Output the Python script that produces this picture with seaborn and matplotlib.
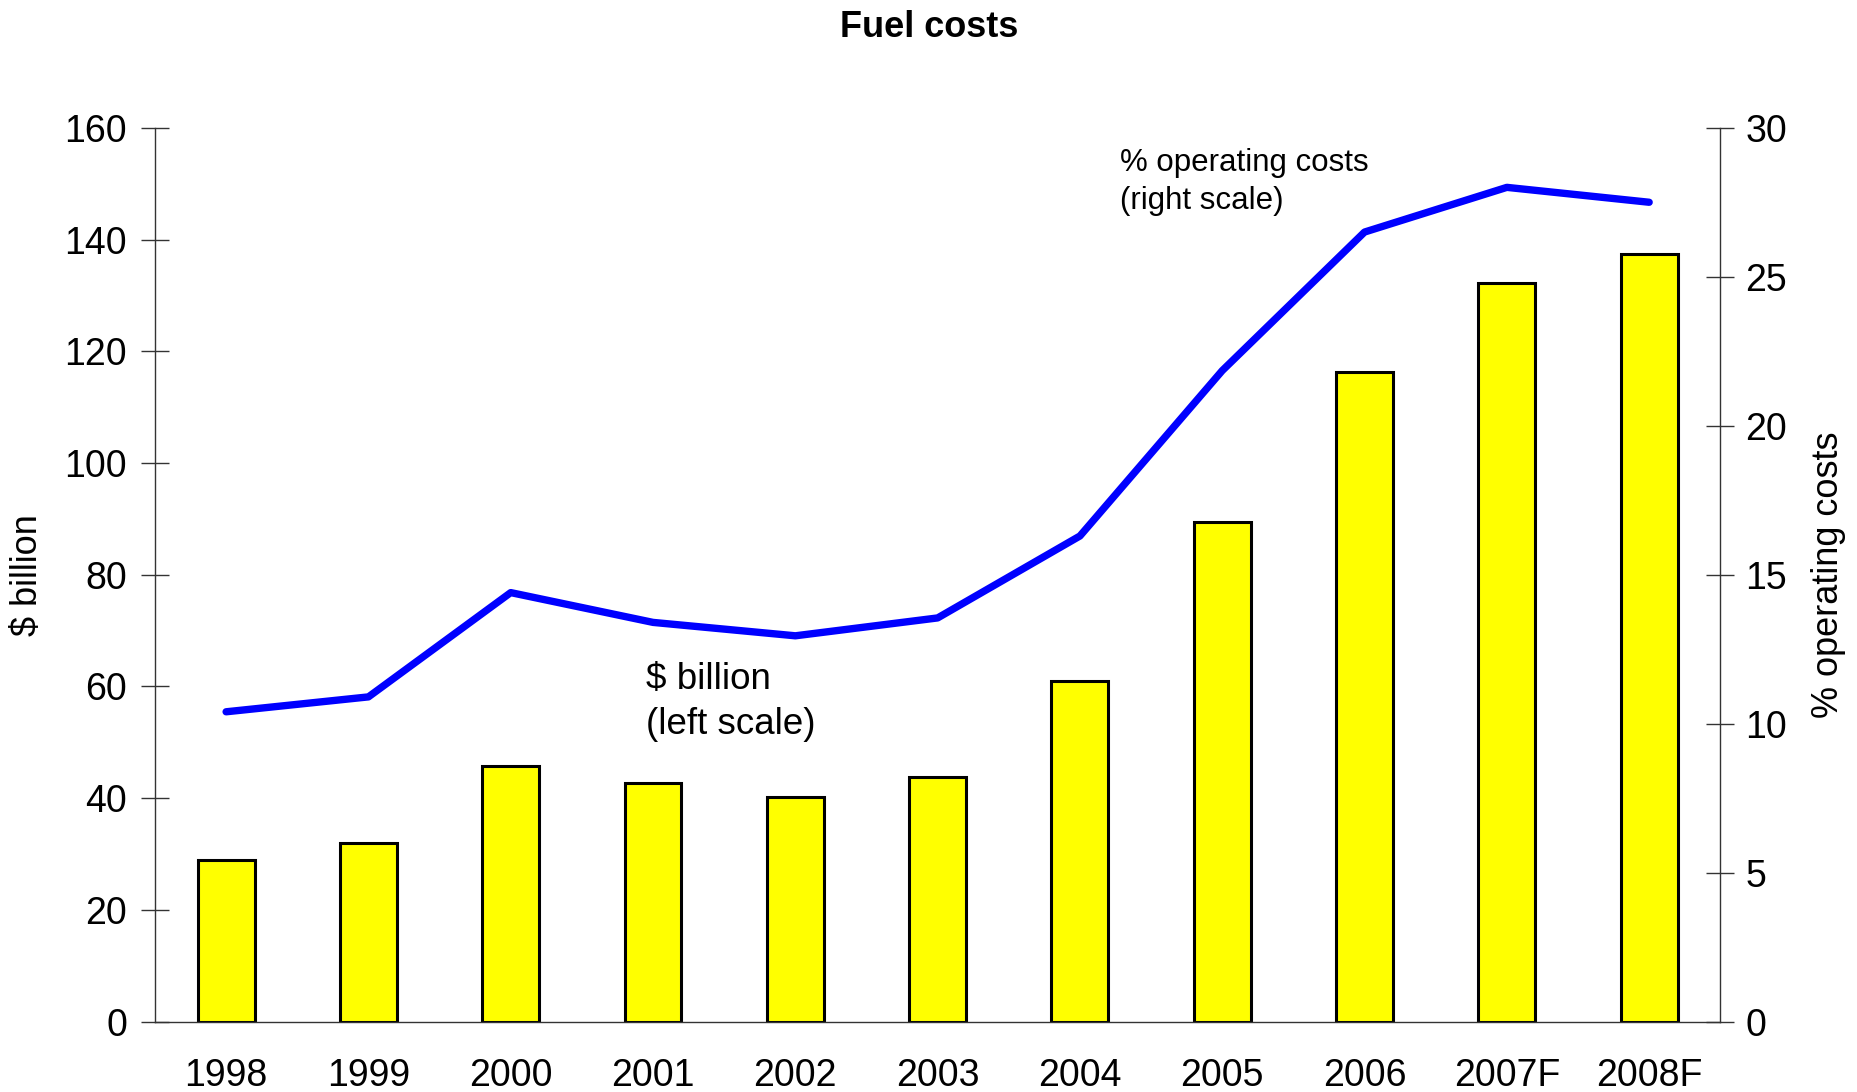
import numpy as np
import pandas as pd
import matplotlib
matplotlib.use('Agg')
import matplotlib.pyplot as plt
import seaborn as sns
from matplotlib.ticker import FixedLocator, MultipleLocator

# valores
anos = ['1998', '1999', '2000', '2001', '2002', '2003', '2004', '2005', '2006', '2007F', '2008F']
bilhoes = [29.0, 32.0, 45.8, 42.8, 40.2, 43.8, 61.0, 89.5, 116.3, 132.2, 137.4]
pct_custos = [10.4, 10.9, 14.4, 13.4, 12.95, 13.55, 16.3, 21.85, 26.5, 28.0, 27.5]

df = pd.DataFrame({'ano': anos, 'bilhoes': bilhoes, 'pct': pct_custos})

sns.set_style('white')
plt.rcParams['font.family'] = ['Liberation Sans', 'DejaVu Sans']
plt.rcParams['text.color'] = 'black'
plt.rcParams['axes.labelcolor'] = 'black'
plt.rcParams['xtick.color'] = 'black'
plt.rcParams['ytick.color'] = 'black'

fig = plt.figure(figsize=(18.58, 10.92), dpi=100)
ax = fig.add_axes([0.0834, 0.0644, 0.8425, 0.8186])

sns.barplot(data=df, x='ano', y='bilhoes', color='#ffff00', saturation=1,
            width=0.4, edgecolor='black', linewidth=2.2, ax=ax)

ax2 = ax.twinx()
sns.lineplot(data=df, x='ano', y='pct', color='#0000ff', linewidth=5.3, ax=ax2)

ax.set_xlim(-0.5, len(anos) - 0.5)
ax.set_ylim(0, 160)
ax2.set_ylim(0, 30)
ax.yaxis.set_major_locator(MultipleLocator(20))
ax2.yaxis.set_major_locator(MultipleLocator(5))

# ticks do eixo x ficam entre as categorias
ax.xaxis.set_minor_locator(FixedLocator(np.arange(-0.5, len(anos), 1.0)))
ax.tick_params(axis='x', which='major', length=0, pad=26, labelsize=27)
ax.tick_params(axis='x', which='minor', direction='inout', length=20, width=1, color='#333333')
ax.tick_params(axis='y', direction='inout', length=20, width=1, color='#333333', pad=10, labelsize=27)
ax2.tick_params(axis='y', direction='inout', length=20, width=1, color='#333333', pad=8, labelsize=27)

for a in (ax, ax2):
    a.spines['top'].set_visible(False)
    for s in ('left', 'bottom', 'right'):
        a.spines[s].set_linewidth(1)
        a.spines[s].set_color('#333333')
ax.spines['right'].set_visible(False)
ax2.spines['left'].set_visible(False)
ax2.spines['bottom'].set_visible(False)

ax.set_xlabel('')
ax.set_ylabel('$ billion', fontsize=26, labelpad=14)
ax2.set_ylabel('% operating costs', fontsize=26, labelpad=17)

ax.text(0.314, 0.402, '$ billion\n(left scale)', transform=ax.transAxes,
        fontsize=26.5, va='top', ha='left', linespacing=1.35)
ax2.text(0.6165, 0.977, '% operating costs\n(right scale)', transform=ax.transAxes,
         fontsize=22.5, va='top', ha='left', linespacing=1.35)

fig.suptitle('Fuel costs', fontsize=26, fontweight='bold', y=0.991)

fig.savefig('out.png', dpi=100)
